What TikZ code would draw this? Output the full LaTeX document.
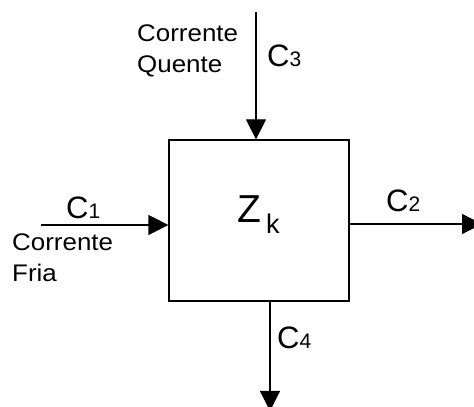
\documentclass[tikz,border=0pt]{standalone}
\usepackage{fontspec}
\setmainfont{Liberation Sans}
\usetikzlibrary{arrows.meta}
\begin{document}
\begin{tikzpicture}[x=1pt,y=1pt,
  flow/.style={line width=1.2pt,-{Triangle[length=20pt,width=20pt]}},
  lbl/.style={inner sep=0pt,anchor=base west},
  small/.style={lbl,font=\fontsize{24}{24}\selectfont},
  cfont/.style={lbl,font=\fontsize{31}{31}\selectfont}]
\useasboundingbox (0,0) rectangle (474,407);
\node[draw,line width=1.2pt,minimum width=180pt,minimum height=161pt,inner sep=0pt] (box) at (259,186.5) {};
% Z_k
\node[lbl,font=\fontsize{39}{39}\selectfont] (z) at (237,184) {Z};
\node[lbl,font=\fontsize{27}{27}\selectfont] (k) at (266,173) {k};
% connectors
\coordinate (c3s) at (256,395);
\coordinate (c1s) at (41,182);
\coordinate (c2e) at (482,183);
\coordinate (c4e) at (270,-4);
\draw[flow] (c3s) -- (c3s |- box.north);
\draw[flow] (c1s) -- (c1s -| box.west);
\draw[flow] (c2e -| box.east) -- (c2e);
\draw[flow] (c4e |- box.south) -- (c4e);
% labels
\node[small] (qa) at (137,365) {\scalebox{1.08}[1]{Corrente}};
\node[small] (qb) at (137,334) {\scalebox{1.08}[1]{Quente}};
\node[small] (fa) at (12,156) {\scalebox{1.08}[1]{Corrente}};
\node[small] (fb) at (12,125) {\scalebox{1.08}[1]{Fria}};
\node[cfont] (c3) at (267,340) {C{\fontsize{21}{21}\selectfont 3}};
\node[cfont] (c1) at (66,188) {C{\fontsize{21}{21}\selectfont 1}};
\node[cfont] (c2) at (386,195) {C{\fontsize{21}{21}\selectfont 2}};
\node[cfont] (c4) at (277,58) {C{\fontsize{21}{21}\selectfont 4}};
\end{tikzpicture}
\end{document}
